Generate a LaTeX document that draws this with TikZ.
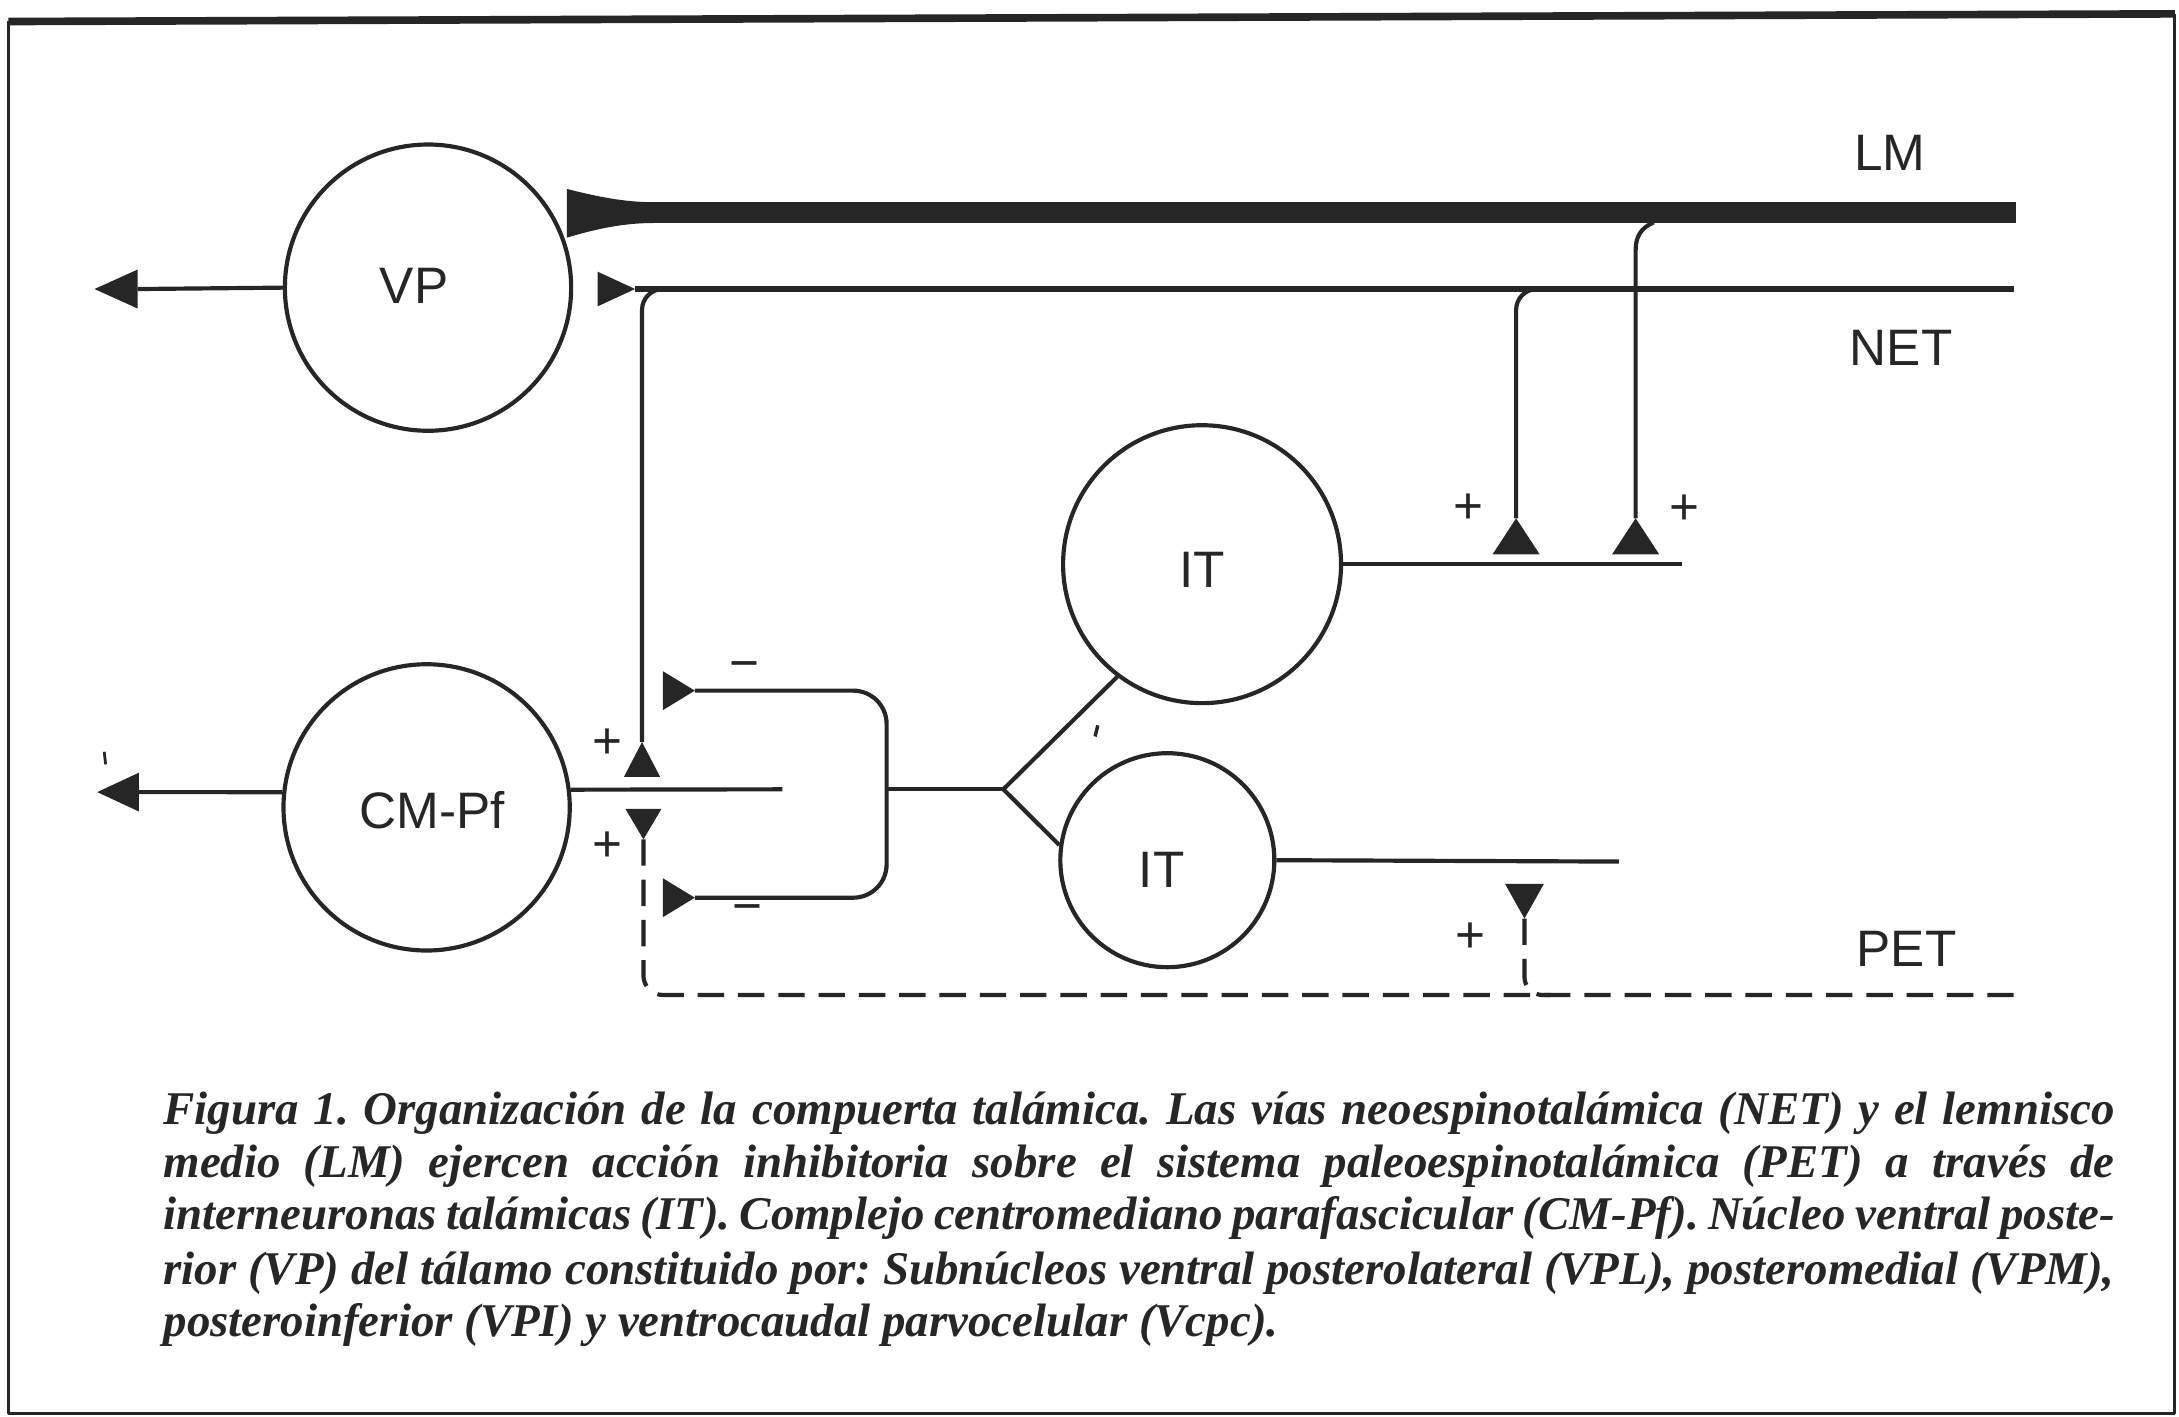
\documentclass[tikz,border=0pt]{standalone}
\usepackage{fontspec}
\setmainfont{Liberation Serif}
\newfontfamily\labfont{Liberation Sans}
\definecolor{ink}{HTML}{262626}
\tikzset{
  pics/termR/.style 2 args={code={\fill[ink] (0,-#1) -- (#2,0) -- (0,#1) -- cycle; \coordinate (-apex) at (#2,0);}},
  pics/termU/.style 2 args={code={\fill[ink] (-#1,0) -- (0,-#2) -- (#1,0) -- cycle; \coordinate (-apex) at (0,-#2);}},
  pics/termD/.style 2 args={code={\fill[ink] (-#1,0) -- (0,#2) -- (#1,0) -- cycle; \coordinate (-apex) at (0,#2);}},
  pics/headL/.style 2 args={code={\fill[ink] (0,-#1) -- (-#2,0) -- (0,#1) -- cycle; \coordinate (-base) at (0,0);}},
}
\begin{document}
\frenchspacing
\begin{tikzpicture}[x=0.1mm,y=-0.1mm, line join=round,
  ln/.style={draw=ink, line width=0.3mm},
  neuron/.style={circle, draw=ink, line width=0.3mm, inner sep=0pt},
  lab/.style={font=\labfont\fontsize{10.5}{12}\selectfont, text=ink, inner sep=0pt},
  capl/.style={anchor=base west, inner sep=0pt, text=ink, font=\fontsize{9.6}{11}\selectfont\bfseries\itshape},
  dsh/.style={ln, dash pattern=on 1.9mm off 1mm},
]
\useasboundingbox (0,0) rectangle (1568,1019);
\fill[white] (0,0) rectangle (1568,1019);
% frame
\draw[draw=ink, line width=0.22mm] (6,15) -- (6,1017) -- (1565,1017) -- (1565,10);
\draw[draw=ink, line width=0.55mm] (6,15.5) -- (1565,10);

% neurons
\node[neuron, minimum size=20.6mm] (vp) at (308,207) {};
\node[lab] (vpl) at (298,206) {VP};
\node[neuron, minimum size=20.6mm] (cm) at (307,581) {};
\node[lab] (cml) at (311,583) {CM-Pf};
\node[neuron, minimum size=20mm] (it1) at (865,406) {};
\node[lab] (it1l) at (865,410) {IT};
\node[neuron, minimum size=15.4mm] (it2) at (840,619) {};
\node[lab] (it2l) at (836,626) {IT};

% LM
\fill[ink] (408,136) .. controls (428,141) and (448,145.5) .. (470,145.5) -- (470,160.5) .. controls (448,160.5) and (428,165) .. (408,171) -- cycle;
\coordinate (lmA) at (468,153);
\coordinate (lmE) at (1451,153);
\draw[draw=ink, line width=1.5mm] (lmA) -- (lmE);
\node[lab] (lml) at (1360,110) {LM};

% NET
\pic (tnet) at (430,208) {termR={12.5}{27}};
\coordinate (netE) at (1449,208);
\draw[ln, line width=0.42mm] (tnet-apex) -- (netE);
\node[lab] (netl) at (1368,250) {NET};

% NET branch to CM-Pf
\pic (tcu) at (462,559) {termU={13}{25}};
\coordinate (nj1) at (480,208);
\draw[ln, rounded corners=1.5mm] (nj1) -| (tcu-apex);

% PET
\pic (tcd) at (463,582) {termD={13}{22}};
\coordinate (petE) at (1452,716);
\draw[dsh, rounded corners=1.4mm] (tcd-apex) |- (petE);
\node[lab] (petl) at (1372,683) {PET};

% CM-Pf input line
\coordinate (cmo) at (563,568);
\draw[ln] (cm.7) -- (cmo);

% inhibitory loop
\pic (tm1) at (477,497) {termR={14}{23}};
\pic (tm2) at (477,646) {termR={14}{23}};
\coordinate (lc1) at (638,497);
\coordinate (lc2) at (638,646);
\coordinate (lp) at (638,568);
\coordinate (fk) at (722,568);
\draw[ln, rounded corners=2.4mm] (tm1-apex) -- (lc1) -- (lc2) -- (tm2-apex);
\draw[ln] (lp) -- (fk);
\draw[ln] (it1.233) -- (fk) -- (it2.172);

% upper IT output
\coordinate (it1o) at (1210,406);
\draw[ln] (it1.east) -- (it1o);
\pic (ta) at (1091,399) {termU={17}{26}};
\pic (tb) at (1177,399) {termU={17}{26}};
\coordinate (nj2) at (1107,208);
\draw[ln, rounded corners=1.5mm] (ta-apex) |- (nj2);
\coordinate (lj) at (1190,160);
\draw[ln] (tb-apex) -- (1177,180) .. controls (1177,170) and (1181,164) .. (lj);

% lower IT output
\coordinate (it2o) at (1165,620);
\draw[ln] (it2.east) -- (it2o);
\pic (tp) at (1097,636) {termD={14}{25}};
\coordinate (pj) at (1116,716);
\draw[dsh, rounded corners=1.3mm] (tp-apex) |- (pj);

% output arrows
\pic (ha) at (99,208) {headL={14}{31}};
\draw[ln] (vp.west) -- (ha-base);
\pic (hb) at (100,570) {headL={14}{30}};
\draw[ln] (cm.174) -- (hb-base);

% signs
\node[lab] (p1) at (437,535) {+};
\node[lab] (p2) at (437,609) {+};
\node[lab] (p3) at (1057,366) {+};
\node[lab] (p4) at (1212,367) {+};
\node[lab] (p5) at (1058,675) {+};
\node[lab] (m1) at (536,483) {−};
\node[lab] (m2) at (538,658) {−};

% small marks
\draw[ink, line width=0.25mm] (790,522) -- (788,530);
\draw[ink, line width=0.2mm] (75,541) -- (76,550);

% caption
\node[capl] (c1) at (117,809) {\makebox[140.4mm][s]{Figura 1. Organización de la compuerta talámica. Las vías neoespinotalámica (NET) y el lemnisco}};
\node[capl] (c2) at (117,847) {\makebox[140.4mm][s]{medio (LM) ejercen acción inhibitoria sobre el sistema paleoespinotalámica (PET) a través de}};
\node[capl] (c3) at (117,885) {\makebox[140.4mm][s]{interneuronas talámicas (IT). Complejo centromediano parafascicular (CM-Pf). Núcleo ventral poste-}};
\node[capl] (c4) at (117,924) {\makebox[140.4mm][s]{rior (VP) del tálamo constituido por: Subnúcleos ventral posterolateral (VPL), posteromedial (VPM),}};
\node[capl] (c5) at (117,962) {posteroinferior (VPI) y ventrocaudal parvocelular (Vcpc).};
\end{tikzpicture}
\end{document}
